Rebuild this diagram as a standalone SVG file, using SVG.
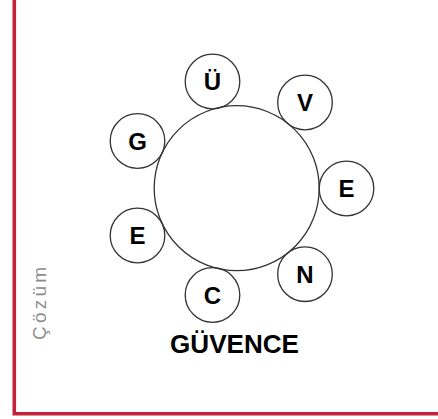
<svg xmlns="http://www.w3.org/2000/svg" width="438" height="419" viewBox="0 0 438 419">
<style>
.c{fill:none;stroke:#333;stroke-width:1.3}
.l{font-family:"Liberation Sans",Arial,sans-serif;font-weight:bold;font-size:24px;fill:#000;text-anchor:middle}
</style>
<rect width="438" height="419" fill="#fff"/>
<path d="M14.3,0 V413.8 H438" fill="none" stroke="#c5203a" stroke-width="3.6"/>
<text transform="translate(46,303.5) rotate(-90)" font-family="'Liberation Sans',Arial,sans-serif" font-size="19" fill="#8c8c8c" text-anchor="middle" textLength="73" lengthAdjust="spacing">Çözüm</text>
<g id="center"><circle class="c" cx="236.7" cy="188.2" r="82.5"/></g>
<g id="n-U"><circle class="c" cx="212.5" cy="81.5" r="27.3"/><text class="l" x="212.5" y="89.5">Ü</text></g>
<g id="n-V"><circle class="c" cx="305" cy="102.5" r="27.3"/><text class="l" x="305" y="110.5">V</text></g>
<g id="n-G"><circle class="c" cx="137.5" cy="141" r="27.3"/><text class="l" x="137.5" y="149.5">G</text></g>
<g id="n-E1"><circle class="c" cx="346.5" cy="188.5" r="27.3"/><text class="l" x="346.5" y="197">E</text></g>
<g id="n-E2"><circle class="c" cx="137.5" cy="235.5" r="27.3"/><text class="l" x="137.5" y="244">E</text></g>
<g id="n-N"><circle class="c" cx="305" cy="274.2" r="27.3"/><text class="l" x="305" y="282.7">N</text></g>
<g id="n-C"><circle class="c" cx="212.5" cy="295" r="27.3"/><text class="l" x="212.5" y="303.5">C</text></g>
<g id="connectors"></g>
<text x="234.5" y="353" font-family="'Liberation Sans',Arial,sans-serif" font-weight="bold" font-size="25" text-anchor="middle" textLength="129" lengthAdjust="spacingAndGlyphs">GÜVENCE</text>
</svg>
